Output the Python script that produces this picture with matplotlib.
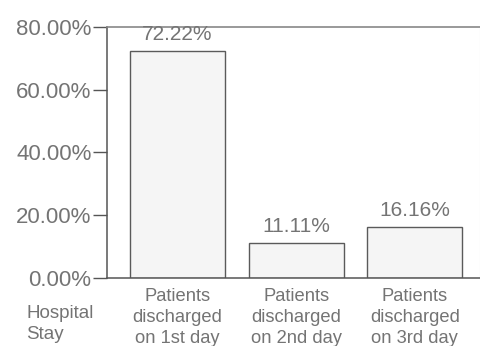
import matplotlib
matplotlib.use("Agg")
import matplotlib.pyplot as plt

categories = ["Patients\ndischarged\non 1st day",
              "Patients\ndischarged\non 2nd day",
              "Patients\ndischarged\non 3rd day"]
values = [72.22, 11.11, 16.16]
value_labels = ["72.22%", "11.11%", "16.16%"]
y_ticks = [0, 20, 40, 60, 80]
y_tick_labels = ["0.00%", "20.00%", "40.00%", "60.00%", "80.00%"]
row_title = "Hospital\nStay"

plt.rcParams["font.family"] = ["Liberation Sans", "DejaVu Sans"]
text_color = "#747474"
line_color = "#555555"

fig = plt.figure(figsize=(4.81, 3.46), dpi=100)
ax = fig.add_axes([0.222, 0.197, 0.776, 0.725])

x = list(range(len(values)))
ax.bar(x, values, width=0.8, color="#f5f5f5", edgecolor="#5a5a5a", linewidth=1.0)

for xi, v, lab in zip(x, values, value_labels):
    ax.annotate(lab, (xi, v), xytext=(0, 5), textcoords="offset points",
                ha="center", va="bottom", fontsize=15, color=text_color)

ax.set_xlim(-0.595, 2.55)
ax.set_ylim(0, 80)
ax.set_yticks(y_ticks)
ax.set_yticklabels(y_tick_labels, fontsize=16, color=text_color)
ax.tick_params(axis="y", length=10, width=1, color=line_color, pad=1)
ax.set_xticks(x)
ax.set_xticklabels(categories, fontsize=13.2, color=text_color, linespacing=1.32)
ax.tick_params(axis="x", length=0, pad=7)

for side in ["left", "bottom"]:
    ax.spines[side].set_color(line_color)
    ax.spines[side].set_linewidth(1.1)
ax.spines["top"].set_color("#888888")
ax.spines["top"].set_linewidth(1.2)
ax.spines["right"].set_color("#dddddd")
ax.spines["right"].set_linewidth(0.8)

fig.text(26 / 481, 1 - 305 / 346, row_title, ha="left", va="top",
         fontsize=13.5, color=text_color, linespacing=1.3)

fig.savefig("out.png", dpi=100, facecolor="white")
